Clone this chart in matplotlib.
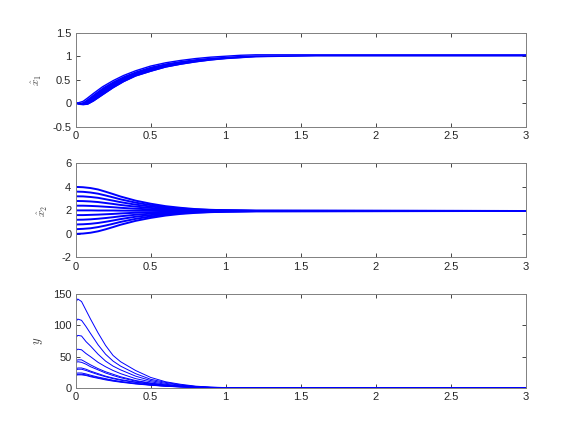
import matplotlib
matplotlib.use("Agg")
import matplotlib.pyplot as plt
from matplotlib.ticker import FuncFormatter

# ---- panel 1: band of x1-hat trajectories (lower / upper edge) ----
t1 = [0, 0.02, 0.05, 0.08, 0.12, 0.18, 0.25, 0.32, 0.4, 0.5, 0.6, 0.7,
      0.8, 0.9, 1.0, 1.1, 1.2, 1.4, 1.6, 2.0, 2.5, 3.0]
x1_low = [0, -0.02, -0.03, -0.02, 0.05, 0.18, 0.33, 0.46, 0.58, 0.68, 0.77,
          0.83, 0.88, 0.92, 0.95, 0.97, 0.99, 1.0, 1.01, 1.01, 1.01, 1.01]
x1_high = [0.01, 0.01, 0.04, 0.11, 0.21, 0.35, 0.48, 0.59, 0.69, 0.79, 0.86,
           0.91, 0.95, 0.98, 1.0, 1.02, 1.03, 1.03, 1.03, 1.03, 1.03, 1.03]

# ---- panel 2: x2-hat trajectories ----
t2 = [0, 0.05, 0.1, 0.15, 0.2, 0.25, 0.3, 0.4, 0.5, 0.6, 0.7, 0.8, 0.9, 1.0, 1.2, 3.0]
x2_curves = [
    [4.00, 3.97, 3.90, 3.78, 3.59, 3.39, 3.18, 2.83, 2.57, 2.36, 2.22, 2.11, 2.05, 2.01, 1.97, 1.95],
    [3.60, 3.58, 3.52, 3.42, 3.27, 3.11, 2.94, 2.66, 2.45, 2.28, 2.16, 2.08, 2.03, 2.00, 1.97, 1.95],
    [3.20, 3.19, 3.14, 3.07, 2.95, 2.83, 2.70, 2.49, 2.33, 2.20, 2.11, 2.05, 2.01, 1.99, 1.96, 1.95],
    [2.80, 2.79, 2.76, 2.71, 2.63, 2.55, 2.46, 2.32, 2.21, 2.12, 2.06, 2.02, 1.99, 1.98, 1.96, 1.95],
    [2.40, 2.40, 2.38, 2.35, 2.31, 2.27, 2.22, 2.14, 2.09, 2.04, 2.01, 1.99, 1.97, 1.96, 1.95, 1.95],
    [2.00, 2.00, 2.00, 1.99, 1.99, 1.99, 1.98, 1.97, 1.97, 1.96, 1.96, 1.95, 1.95, 1.95, 1.95, 1.95],
    [1.60, 1.60, 1.62, 1.64, 1.67, 1.70, 1.74, 1.80, 1.84, 1.88, 1.90, 1.92, 1.93, 1.94, 1.95, 1.95],
    [1.20, 1.21, 1.24, 1.29, 1.35, 1.42, 1.50, 1.63, 1.72, 1.80, 1.85, 1.89, 1.91, 1.93, 1.94, 1.95],
    [0.80, 0.82, 0.86, 0.93, 1.03, 1.14, 1.26, 1.46, 1.60, 1.72, 1.80, 1.86, 1.89, 1.92, 1.94, 1.95],
    [0.40, 0.43, 0.48, 0.58, 0.71, 0.86, 1.02, 1.28, 1.48, 1.64, 1.75, 1.83, 1.87, 1.90, 1.93, 1.95],
    [0.00, 0.03, 0.10, 0.22, 0.39, 0.58, 0.78, 1.11, 1.36, 1.56, 1.70, 1.79, 1.85, 1.89, 1.93, 1.95],
]

# ---- panel 3: y trajectories ----
t3 = [0, 0.015, 0.04, 0.07, 0.1, 0.15, 0.2, 0.25, 0.3, 0.4, 0.5, 0.6, 0.7, 0.8, 0.9, 1.0, 1.2, 3.0]
y_curves = [
    [136, 142, 138, 124, 110, 88, 68, 52, 42, 28, 17, 10, 6, 3, 1.5, 0.7, 0.2, 0],
    [105, 110, 108, 98, 87, 69, 54, 43, 35, 23, 14, 9, 5, 2.5, 1.2, 0.5, 0.1, 0],
    [80, 84, 83, 74, 67, 54, 43, 35, 29, 19, 12, 7.5, 4.5, 2.2, 1, 0.4, 0.1, 0],
    [59, 62, 61, 55, 50, 41, 34, 28, 23, 15, 10, 6, 3.5, 1.8, 0.8, 0.3, 0.1, 0],
    [43, 45, 45, 41, 37, 31, 26, 22, 18, 12, 8, 5, 3, 1.5, 0.7, 0.3, 0.1, 0],
    [40, 42, 41, 38, 34, 29, 24, 20, 16.5, 11, 7.5, 4.5, 2.7, 1.4, 0.6, 0.3, 0.1, 0],
    [30, 32, 32, 30, 27, 23, 19, 16, 13.5, 9.5, 6.5, 4, 2.4, 1.2, 0.6, 0.3, 0.1, 0],
    [28.5, 30, 30, 28, 25.5, 21.5, 18, 15, 12.5, 9, 6, 3.8, 2.2, 1.1, 0.5, 0.2, 0.1, 0],
    [23, 24, 24, 22.5, 20.5, 17.5, 15, 12.5, 10.5, 7.5, 5, 3.2, 2, 1, 0.5, 0.2, 0.1, 0],
    [21, 22, 22, 21, 19, 16.5, 14, 11.8, 10, 7, 4.8, 3, 1.8, 0.9, 0.4, 0.2, 0.1, 0],
    [20, 21, 21, 20, 18, 15.5, 13, 11, 9.3, 6.5, 4.5, 2.8, 1.7, 0.8, 0.4, 0.2, 0.1, 0],
]

x_ticks = [0, 0.5, 1, 1.5, 2, 2.5, 3]
y1_ticks = [-0.5, 0, 0.5, 1, 1.5]
y2_ticks = [-2, 0, 2, 4, 6]
y3_ticks = [0, 50, 100, 150]

plt.rcParams['font.family'] = ['Liberation Sans', 'DejaVu Sans']
plt.rcParams['mathtext.fontset'] = 'cm'

fig = plt.figure(figsize=(5.81, 4.36), dpi=100)
axes_pos = [0.7093, 0.4096, 0.1100]
axs = [fig.add_axes([0.13, b, 0.775, 0.2157]) for b in axes_pos]

ax1, ax2, ax3 = axs
ax1.fill_between(t1, x1_low, x1_high, color='#0000ff', lw=0)
ax1.plot(t1, x1_low, color='#0000ff', lw=1.0)
ax1.plot(t1, x1_high, color='#0000ff', lw=1.0)
ax1.set_ylim(-0.5, 1.5)
ax1.set_yticks(y1_ticks)
ax1.set_ylabel(r'$\hat{x}_1$', fontsize=8, color='#404040', labelpad=6)

for c in x2_curves:
    ax2.plot(t2, c, color='#0000ff', lw=1.4)
ax2.set_ylim(-2, 6)
ax2.set_yticks(y2_ticks)
ax2.set_ylabel(r'$\hat{x}_2$', fontsize=8, color='#404040', labelpad=8)

for c in y_curves:
    ax3.plot(t3, c, color='#0000ff', lw=0.7)
ax3.set_ylim(0, 150)
ax3.set_yticks(y3_ticks)
ax3.set_ylabel(r'$y$', fontsize=9, color='#404040', labelpad=6)

fmt = FuncFormatter(lambda v, p: '%g' % v)
for ax in axs:
    ax.set_xlim(0, 3)
    ax.set_xticks(x_ticks)
    ax.xaxis.set_major_formatter(fmt)
    ax.yaxis.set_major_formatter(fmt)
    ax.tick_params(direction='in', top=True, right=True, length=3, width=0.6,
                   colors='#262626', labelsize=8, pad=3)
    for s in ax.spines.values():
        s.set_color('#808080')
        s.set_linewidth(0.7)

fig.savefig('out.png', dpi=100)
